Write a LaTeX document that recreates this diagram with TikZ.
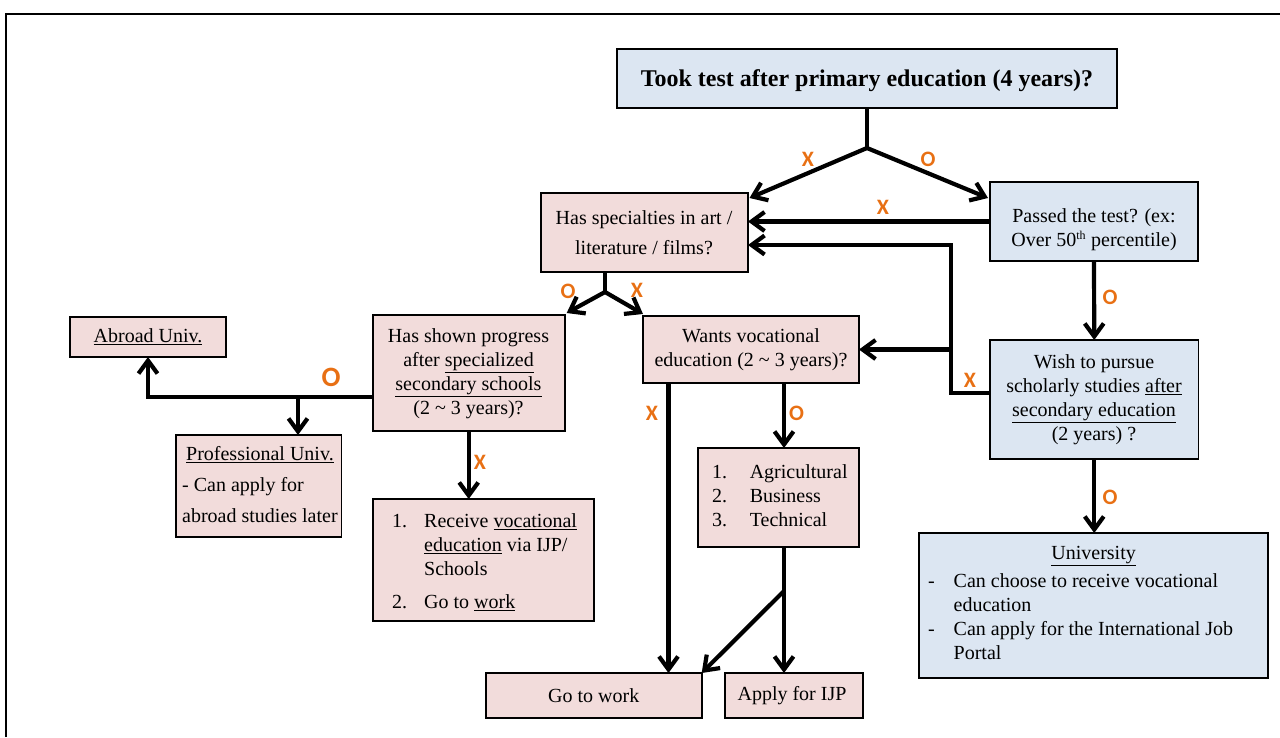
\documentclass[tikz,border=0pt]{standalone}
\usepackage{fontspec}
\setmainfont{Liberation Serif}
\newfontfamily\lblfont{Carlito}
\usetikzlibrary{arrows.meta,calc}
\definecolor{pinkfill}{HTML}{F2DCDB}
\definecolor{bluefill}{HTML}{DCE6F2}
\definecolor{lblorange}{RGB}{232,112,20}
\begin{document}
\begin{tikzpicture}[x=1pt,y=-1pt,
  box/.style={draw=black, line width=1.8pt, inner sep=0pt, outer sep=0pt},
  pinkbox/.style={box, fill=pinkfill},
  bluebox/.style={box, fill=bluefill},
  txt/.style={inner sep=0pt, font=\fontsize{20}{24}\selectfont},
  arr/.style={line width=4.2pt, -{Straight Barb[length=13pt,width=19pt]}},
  ln/.style={line width=4.2pt},
  lbl/.style={text=lblorange, font=\lblfont\bfseries\fontsize{22}{24}\selectfont, inner sep=0pt}
]
\useasboundingbox (0,0) rectangle (1280,737);
% outer frame
\draw[line width=2.5pt] (6,737) -- (6,14) -- (1280,14);

% boxes
\node[bluebox, minimum width=500pt, minimum height=59pt] (top) at (867,78.5) {};
\node[pinkbox, minimum width=207pt, minimum height=79pt] (spec) at (644.5,232.5) {};
\node[bluebox, minimum width=208pt, minimum height=79pt] (passed) at (1094,221.5) {};
\node[bluebox, minimum width=208.5pt, minimum height=119pt] (wish) at (1094.25,399.5) {};
\node[bluebox, minimum width=349pt, minimum height=145pt] (univ) at (1093.5,605.5) {};
\node[pinkbox, minimum width=192pt, minimum height=116pt] (shown) at (468.7,373) {};
\node[pinkbox, minimum width=216pt, minimum height=67pt] (wants) at (751,349.5) {};
\node[pinkbox, minimum width=161.4pt, minimum height=99pt] (agri) at (778.3,497.5) {};
\node[pinkbox, minimum width=220.7pt, minimum height=122pt] (receive) at (483.3,560) {};
\node[pinkbox, minimum width=156pt, minimum height=40pt] (abroad) at (148,337) {};
\node[pinkbox, minimum width=165.5pt, minimum height=102pt] (prof) at (258.8,486) {};
\node[pinkbox, minimum width=216pt, minimum height=45pt] (gowork) at (593.7,695.5) {};
\node[pinkbox, minimum width=138pt, minimum height=45pt] (apply) at (794,695.5) {};

% texts
\node[txt] (top-t) at (867,81) {\fontsize{24}{28}\selectfont\bfseries Took test after primary education (4 years)?};
\node[txt] (spec-t) at (644,235) {\begin{tabular}{@{}c@{}}Has specialties in art /\\[6pt] literature / films?\end{tabular}};
\node[txt] (passed-t) at (1094,230) {\begin{tabular}{@{}c@{}}Passed the test? (ex:\\ Over 50\textsuperscript{\fontsize{12}{12}\selectfont th} percentile)\end{tabular}};
\node[txt] (shown-t) at (468.5,373.5) {\begin{tabular}{@{}c@{}}Has shown progress\\ after \underline{specialized}\\ \underline{secondary schools}\\ (2 \textasciitilde{} 3 years)?\end{tabular}};
\node[txt] (wants-t) at (751,349.5) {\begin{tabular}{@{}c@{}}Wants vocational\\ education (2 \textasciitilde{} 3 years)?\end{tabular}};
\node[txt] (wish-t) at (1094,400) {\begin{tabular}{@{}c@{}}Wish to pursue\\ scholarly studies \underline{after}\\ \underline{secondary education}\\ (2 years) ?\end{tabular}};
\node[txt] (abroad-t) at (148,337) {\underline{Abroad Univ.}};
\node[txt, anchor=west] (prof-t) at (182,487) {\begin{tabular}{@{}l@{}}\multicolumn{1}{@{}c@{}}{\underline{Professional Univ.}}\\[7pt] - Can apply for\\[7pt] abroad studies later\end{tabular}};
\node[txt, anchor=west] (receive-t) at (392,563.5) {\begin{tabular}{@{}p{32pt}@{}l@{}}1. & Receive \underline{vocational}\\ & \underline{education} via IJP/\\ & Schools\\[9pt] 2. & Go to \underline{work}\end{tabular}};
\node[txt, anchor=west] (agri-t) at (712,497.7) {\begin{tabular}{@{}p{37.6pt}@{}l@{}}1. & Agricultural\\ 2. & Business\\ 3. & Technical\end{tabular}};
\node[txt, anchor=west] (univ-t) at (928,605) {\begin{tabular}{@{}p{25.5pt}@{}l@{}}\multicolumn{2}{@{}c@{}}{\hspace*{26pt}\underline{University}}\\[4pt] - & Can choose to receive vocational\\ & education\\ - & Can apply for the International Job\\ & Portal\end{tabular}};
\node[txt] (gowork-t) at (593.7,696) {Go to work};
\node[txt] (apply-t) at (792,696) {Apply for IJP};

% junction coordinates
\coordinate (br1) at (867,148);
\coordinate (br2) at (605,292);
\coordinate (br3) at (298,397);
\coordinate (br4) at (784,591);
\coordinate (jx) at (951,349.5);

% connectors
\draw[ln] (top.south) -- (br1);
\draw[arr] (br1) -- ([xshift=1.5pt,yshift=-5pt]spec.north east);
\draw[arr] (br1) -- ([xshift=-2pt,yshift=-16pt]passed.north west);
\draw[arr] (passed.west) -- (passed.west -| spec.east);
\draw[arr] ([yshift=6.5pt]wish.west) -| ([yshift=-12.5pt]spec.east -| jx) -- ([yshift=-12.5pt]spec.east);
\draw[arr] (jx) -- (jx -| wants.east);
\draw[arr] (passed.south) -- (wish.north);
\draw[arr] (wish.south) -- (wish.south |- univ.north);
\draw[ln] (br2 |- spec.south) -- (br2);
\draw[arr] (br2) -- ([xshift=2pt,yshift=2pt]shown.north east);
\draw[arr] (br2) -- ([yshift=2pt]wants.north west);
\draw[arr] (shown.south) -- (shown.south |- receive.north);
\draw[arr] ([yshift=-24pt]shown.west) -| (abroad.south);
\draw[arr] (br3) -- (br3 |- prof.north);
\draw[arr] ([xshift=-82.5pt]wants.south) -- ([xshift=-82.5pt]wants.south |- gowork.north);
\draw[arr] ([xshift=33pt]wants.south) -- ([xshift=33pt]wants.south |- agri.north);
\draw[ln] (br4 |- agri.south) -- (br4);
\draw[arr] (br4) -- (gowork.north east);
\draw[arr] (br4) -- (br4 |- apply.north);

% labels
\node[lbl] (l1) at (808,159) {X};
\node[lbl] (l2) at (928,159) {O};
\node[lbl] (l3) at (883,207) {X};
\node[lbl] (l4) at (568,291) {O};
\node[lbl] (l5) at (637,290) {X};
\node[lbl] (l6) at (1110,297) {O};
\node[lbl] (l7) at (970,380) {X};
\node[lbl, font=\lblfont\bfseries\fontsize{28}{30}\selectfont] (l8) at (331,377) {O};
\node[lbl] (l9) at (480,462) {X};
\node[lbl] (l10) at (652,413) {X};
\node[lbl] (l11) at (796.5,413) {O};
\node[lbl] (l12) at (1110,497) {O};
\end{tikzpicture}
\end{document}
